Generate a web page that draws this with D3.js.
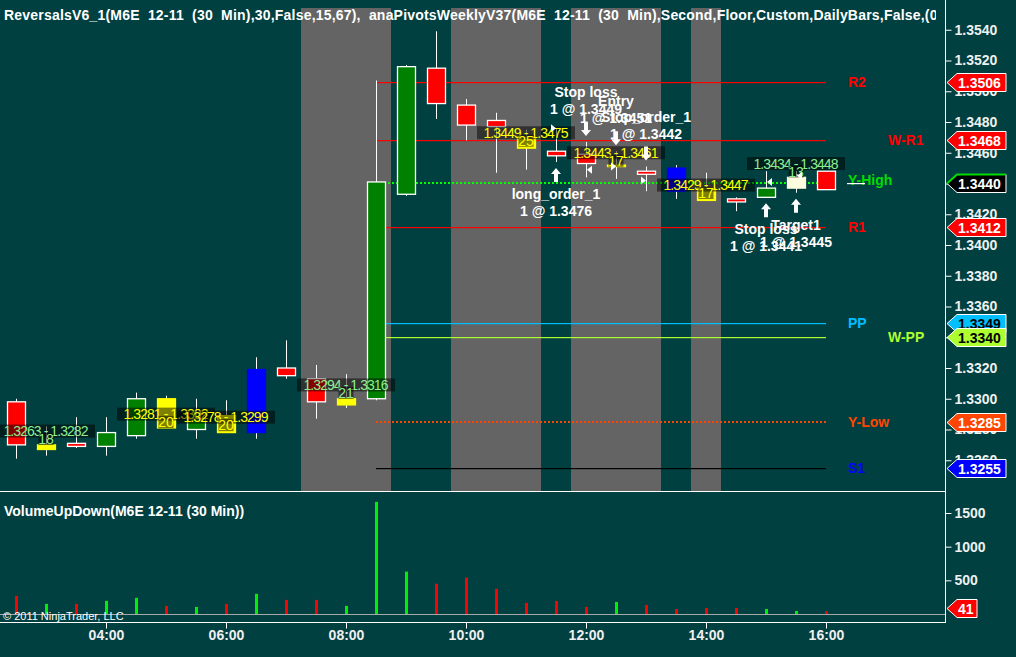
<!DOCTYPE html>
<html><head><meta charset="utf-8">
<script src="https://cdn.jsdelivr.net/npm/d3@7"></script>
<style>
html,body{margin:0;padding:0;background:#004040;overflow:hidden}
svg{display:block}
text{font-family:"Liberation Sans",Arial,sans-serif}
</style></head><body>
<svg id="c" width="1016" height="657"></svg>
<script>
// ---------------- DATA ----------------
const times  = ["02:30","03:00","03:30","04:00","04:30","05:00","05:30","06:00","06:30","07:00","07:30","08:00","08:30","09:00","09:30","10:00","10:30","11:00","11:30","12:00","12:30","13:00","13:30","14:00","14:30","15:00","15:30","16:00"];
const opens  = [1.3298,1.3267,1.3271,1.3269,1.3276,1.3300,1.3280,1.3289,1.3278,1.3320,1.3313,1.3296,1.3300,1.3433,1.3515,1.3491,1.3481,1.3470,1.3461,1.3459,1.3451,1.3448,1.3450,1.3437,1.3430,1.3431,1.3437,1.3448];
const highs  = [1.3300,1.3282,1.3288,1.3288,1.3304,1.3302,1.3300,1.3299,1.3327,1.3338,1.3322,1.3316,1.3507,1.3517,1.3539,1.3495,1.3486,1.3475,1.3476,1.3467,1.3461,1.3451,1.3452,1.3447,1.3431,1.3448,1.3448,1.3448];
const lows   = [1.3261,1.3263,1.3268,1.3263,1.3274,1.3281,1.3274,1.3278,1.3274,1.3313,1.3287,1.3294,1.3299,1.3432,1.3482,1.3468,1.3447,1.3449,1.3454,1.3444,1.3443,1.3435,1.3430,1.3429,1.3422,1.3431,1.3434,1.3436];
const closes = [1.3270,1.3270,1.3269,1.3278,1.3300,1.3281,1.3287,1.3278,1.3319,1.3315,1.3298,1.3300,1.3441,1.3516,1.3492,1.3478,1.3477,1.3463,1.3458,1.3453,1.3452,1.3446,1.3435,1.3429,1.3428,1.3437,1.3444,1.3436];
const paint  = ["","S","","","","S","","S","B","","","S","","","","","","S","","","S","","B","S","","","W",""];
const volumes= [270,150,150,195,240,120,105,150,300,210,210,120,1665,630,450,540,375,165,195,105,180,135,75,90,90,75,45,41];

const sessionStart = ["07:30","10:00","12:00","14:00"];
const sessionEnd   = ["08:30","11:00","13:00","14:00"];

const pivotNames  = ["R2","W-R1","Y-High","R1","PP","W-PP","Y-Low","S1"];
const pivotValues = [1.3506,1.3468,1.3440,1.3412,1.3349,1.3340,1.3285,1.3255];
const pivotFrom = "08:30", pivotTo = "16:00";

const signalTimes  = ["03:00","05:00","06:00","08:00","11:00","12:30","14:00","15:30"];
const signalLo     = [1.3263,1.3281,1.3278,1.3294,1.3449,1.3443,1.3429,1.3434];
const signalHi     = [1.3282,1.3302,1.3299,1.3316,1.3475,1.3461,1.3447,1.3448];
const signalCount  = [18,20,20,21,25,17,17,13];
const signalDir    = ["up","down","down","up","down","down","down","up"];
const signalAnchor = [1.3279,1.3290,1.3288,1.3309,1.3473,1.3460,1.3439,1.3453];

const execTimes  = ["11:30","12:00","12:30","13:00","15:00","15:30"];
const execPrices = [1.3476,1.3449,1.3451,1.3442,1.3441,1.3445];
const execNames  = ["long_order_1","Stop loss","Entry","Stop_order_1","Stop loss","Target1"];
const execSides  = ["buy","sell","sell","sell","buy","buy"];
const execKinds  = ["entry","exit","entry","entry","exit","exit"];
const execQty    = [1,1,1,1,1,1];

const priceTicks = [1.3260,1.3280,1.3300,1.3320,1.3340,1.3360,1.3380,1.3400,1.3420,1.3440,1.3460,1.3480,1.3500,1.3520,1.3540];
const volumeTicks = [500,1000,1500];
const timeTicks = ["04:00","06:00","08:00","10:00","12:00","14:00","16:00"];
const lastVolume = 41;

const titleText = "ReversalsV6_1(M6E  12-11  (30  Min),30,False,15,67),  anaPivotsWeeklyV37(M6E  12-11  (30  Min),Second,Floor,Custom,DailyBars,False,(0,0,0),Pivots";
const volTitle = "VolumeUpDown(M6E 12-11 (30 Min))";
const copyright = "\u00A9 2011 NinjaTrader, LLC";

// ---------------- STYLE MAPS ----------------
const paintColor = {S:"#ffff00", B:"#0000ff", W:"#ffffe0"};
const pivotColor = {"R2":"#ff0000","W-R1":"#ff0000","Y-High":"#00ff00","R1":"#ff0000","PP":"#00bfff","W-PP":"#adff2f","Y-Low":"#ff4500","S1":"#000000"};
const pivotLabelColor = {"R2":"#ff0000","W-R1":"#ff0000","Y-High":"#00dd00","R1":"#ff0000","PP":"#00bfff","W-PP":"#adff2f","Y-Low":"#ff4500","S1":"#0000ff"};
const tagFill = {"R2":"#ff0000","W-R1":"#ff0000","Y-High":"#000000","R1":"#ff0000","PP":"#00bfff","W-PP":"#adff2f","Y-Low":"#ff4500","S1":"#0000ff"};
const tagText = {"R2":"#fff","W-R1":"#fff","Y-High":"#fff","R1":"#fff","PP":"#000","W-PP":"#000","Y-Low":"#fff","S1":"#fff"};
const dotted = {"Y-High":true,"Y-Low":true};
const sigColor = {up:"#90ee90", down:"#ffff00"};

// ---------------- SCALES ----------------
const axisX = 945;
const parseT = d3.timeParse("%H:%M");
const x = d3.scaleTime().domain([parseT("02:14"), parseT("17:59")]).range([0, axisX]);
const y = d3.scaleLinear().domain([1.3260, 1.3540]).range([460.25, 29.75]);
const yv = d3.scaleLinear().domain([0, 1500]).range([614, 513]);
const X = s => x(parseT(s));
const half = 15;

const svg = d3.select("#c");
svg.append("rect").attr("width",1016).attr("height",657).attr("fill","#004040");
const defs = svg.append("defs");
defs.append("clipPath").attr("id","pc").append("rect").attr("x",0).attr("y",8).attr("width",axisX).attr("height",483);
defs.append("clipPath").attr("id","vc").append("rect").attr("x",0).attr("y",492).attr("width",axisX).attr("height",130);
defs.append("clipPath").attr("id","tc").append("rect").attr("x",0).attr("y",0).attr("width",axisX-9).attr("height",30);

const P = svg.append("g").attr("clip-path","url(#pc)");

// sessions
sessionStart.forEach((s,i)=>{
  const x0 = x(d3.timeMinute.offset(parseT(s),-half));
  const x1 = x(d3.timeMinute.offset(parseT(sessionEnd[i]),half));
  P.append("rect").attr("x",x0).attr("y",8).attr("width",x1-x0).attr("height",483).attr("fill","#646464");
});

// pivot lines
pivotNames.forEach((n,i)=>{
  const yy = Math.round(y(pivotValues[i]));
  if (dotted[n]) {
    P.append("line").attr("x1",X(pivotFrom)).attr("x2",X(pivotTo)).attr("y1",yy).attr("y2",yy)
      .attr("stroke",pivotColor[n]).attr("stroke-width",2).attr("stroke-dasharray","2,2");
  } else {
    P.append("rect").attr("x",X(pivotFrom)).attr("y",yy).attr("width",X(pivotTo)-X(pivotFrom)).attr("height",1.2)
      .attr("fill",pivotColor[n]);
  }
});

// candles
times.forEach((t,i)=>{
  const cx = Math.round(X(t))+0.5;
  const up = closes[i] >= opens[i];
  const fill = paint[i] ? paintColor[paint[i]] : (up ? "#008000" : "#ff0000");
  const stroke = paint[i] ? paintColor[paint[i]] : "#ffffff";
  P.append("line").attr("x1",cx).attr("x2",cx).attr("y1",y(highs[i])).attr("y2",y(lows[i])).attr("stroke","#fff").attr("stroke-width",1);
  const yt = y(Math.max(opens[i],closes[i])), yb = y(Math.min(opens[i],closes[i]));
  P.append("rect").attr("x",cx-9).attr("y",yt).attr("width",18).attr("height",Math.max(1,yb-yt))
    .attr("fill",fill).attr("stroke",stroke).attr("stroke-width",1.3);
});

// signal labels
signalTimes.forEach((t,i)=>{
  const cx = X(t), ya = y(signalAnchor[i]);
  const col = sigColor[signalDir[i]];
  P.append("rect").attr("x",cx-49).attr("y",ya-6.5).attr("width",98).attr("height",13).attr("fill","#000").attr("opacity",0.5);
  P.append("text").attr("x",cx).attr("y",ya+5).attr("text-anchor","middle").attr("fill",col)
    .attr("font-size",14).attr("textLength",85).attr("lengthAdjust","spacing").style("white-space","pre")
    .text(d3.format(".4f")(signalLo[i])+" - "+d3.format(".4f")(signalHi[i]));
  const yc = ya+8;
  P.append("rect").attr("x",cx-7.5).attr("y",yc-6).attr("width",15).attr("height",12).attr("fill","#000").attr("opacity",0.5);
  P.append("text").attr("x",cx).attr("y",yc+5).attr("text-anchor","middle").attr("fill",col).attr("font-size",14).text(signalCount[i]);
});

// executions
execTimes.forEach((t,i)=>{
  const idx = times.indexOf(t);
  const cx = X(t);
  const yp = y(execPrices[i]);
  const tri = execKinds[i]==="entry"
    ? `M${cx-5},${yp-4}L${cx},${yp}L${cx-5},${yp+4}Z`
    : `M${cx+6},${yp-4}L${cx+1},${yp}L${cx+6},${yp+4}Z`;
  P.append("path").attr("d",tri).attr("fill","#fff");
  let arrow, l1, l2;
  if (execSides[i]==="buy") {
    const t0 = y(lows[idx])+6;
    arrow = `M${cx},${t0}L${cx+5},${t0+6}L${cx+2},${t0+6}L${cx+2},${t0+14}L${cx-2},${t0+14}L${cx-2},${t0+6}L${cx-5},${t0+6}Z`;
    l1 = t0+14+12; l2 = l1+17;
  } else {
    const b0 = y(highs[idx])-6;
    arrow = `M${cx},${b0}L${cx+5},${b0-6}L${cx+2},${b0-6}L${cx+2},${b0-14}L${cx-2},${b0-14}L${cx-2},${b0-6}L${cx-5},${b0-6}Z`;
    l2 = b0-14-13; l1 = l2-17;
  }
  P.append("path").attr("d",arrow).attr("fill","#fff");
  P.append("text").attr("x",cx).attr("y",l1+5).attr("text-anchor","middle").attr("fill","#fff").attr("font-size",14).attr("font-weight","bold").text(execNames[i]);
  P.append("text").attr("x",cx).attr("y",l2+5).attr("text-anchor","middle").attr("fill","#fff").attr("font-size",14).attr("font-weight","bold").text(execQty[i]+" @ "+d3.format(".4f")(execPrices[i]));
});

// pivot labels
pivotNames.forEach((n,i)=>{
  const lx = X(pivotTo) + (n.startsWith("W-") ? 62 : 22);
  const nudge = n==="Y-High" ? -4 : 0;
  P.append("text").attr("x",lx).attr("y",y(pivotValues[i])+5+nudge).attr("fill",pivotLabelColor[n])
    .attr("font-size",14).attr("font-weight","bold").text(n);
  if (n==="Y-High") {
    const yy = Math.round(y(pivotValues[i]));
    P.append("rect").attr("x",lx-1).attr("y",yy).attr("width",18).attr("height",1.2).attr("fill","#fff");
  }
});

// title
svg.append("g").attr("clip-path","url(#tc)").append("text").attr("x",4).attr("y",20)
  .attr("fill","#fff").attr("font-size",14).attr("font-weight","bold").attr("letter-spacing",0.2)
  .style("white-space","pre").text(titleText);

// panel borders
svg.append("rect").attr("x",0).attr("y",491).attr("width",axisX).attr("height",1).attr("fill","#fff");
svg.append("rect").attr("x",0).attr("y",622).attr("width",axisX).attr("height",1).attr("fill","#fff");
svg.append("rect").attr("x",axisX).attr("y",0).attr("width",1).attr("height",623).attr("fill","#fff");

// volume panel
const V = svg.append("g").attr("clip-path","url(#vc)");
V.append("rect").attr("x",0).attr("y",614).attr("width",axisX).attr("height",1).attr("fill","#a8a8a8");
times.forEach((t,i)=>{
  const cx = Math.round(X(t));
  const up = closes[i] >= opens[i];
  V.append("rect").attr("x",cx-1).attr("y",yv(volumes[i])).attr("width",3).attr("height",yv(0)-yv(volumes[i]))
    .attr("fill", up ? "#00ee00" : "#ff0000");
});
svg.append("text").attr("x",4).attr("y",516).attr("fill","#fff").attr("font-size",14).attr("font-weight","bold").text(volTitle);
svg.append("text").attr("x",3).attr("y",620).attr("fill","#fff").attr("font-size",11).text(copyright);

// axes
const pa = svg.append("g").attr("transform",`translate(${axisX+0.5},0)`)
  .call(d3.axisRight(y).tickValues(priceTicks).tickFormat(d3.format(".4f")).tickSize(6).tickSizeOuter(0).tickPadding(3));
const va = svg.append("g").attr("transform",`translate(${axisX+0.5},0)`)
  .call(d3.axisRight(yv).tickValues(volumeTicks).tickFormat(d3.format("d")).tickSize(6).tickSizeOuter(0).tickPadding(3));
const ta = svg.append("g").attr("transform",`translate(0,622.5)`)
  .call(d3.axisBottom(x).tickValues(timeTicks.map(parseT)).tickFormat(d3.timeFormat("%H:%M")).tickSize(6).tickSizeOuter(0).tickPadding(3));
[pa,va,ta].forEach(a=>{
  a.select(".domain").remove();
  a.selectAll(".tick line").attr("stroke","#fff");
  a.selectAll(".tick text").attr("fill","#f0f0f0").attr("font-size",14).attr("font-weight","bold")
    .attr("font-family","'Liberation Sans',Arial,sans-serif");
});
ta.selectAll(".tick text").attr("dy","0.6em");

// right tags
function tag(yc, w, fill, txtCol, label, topColor){
  const x0 = axisX+2, h = 9;
  const d = `M${x0},${yc}L${x0+10},${yc-h}L${x0+w},${yc-h}L${x0+w},${yc+h}L${x0+10},${yc+h}Z`;
  svg.append("path").attr("d",d).attr("fill",fill).attr("stroke","#fff").attr("stroke-width",1);
  if (topColor) svg.append("path").attr("d",`M${x0},${yc}L${x0+10},${yc-h}L${x0+w},${yc-h}`).attr("fill","none").attr("stroke",topColor).attr("stroke-width",2);
  svg.append("text").attr("x",x0+11).attr("y",yc+5).attr("fill",txtCol).attr("font-size",14).attr("font-weight","bold").text(label);
}
pivotNames.forEach((n,i)=>{
  tag(Math.round(y(pivotValues[i]))+0.5, 59, tagFill[n], tagText[n], d3.format(".4f")(pivotValues[i]), n==="Y-High" ? "#00dd00" : null);
});
tag(Math.round(yv(lastVolume))-2.5, 30, "#ff0000", "#fff", String(lastVolume), null);
</script>
</body></html>
